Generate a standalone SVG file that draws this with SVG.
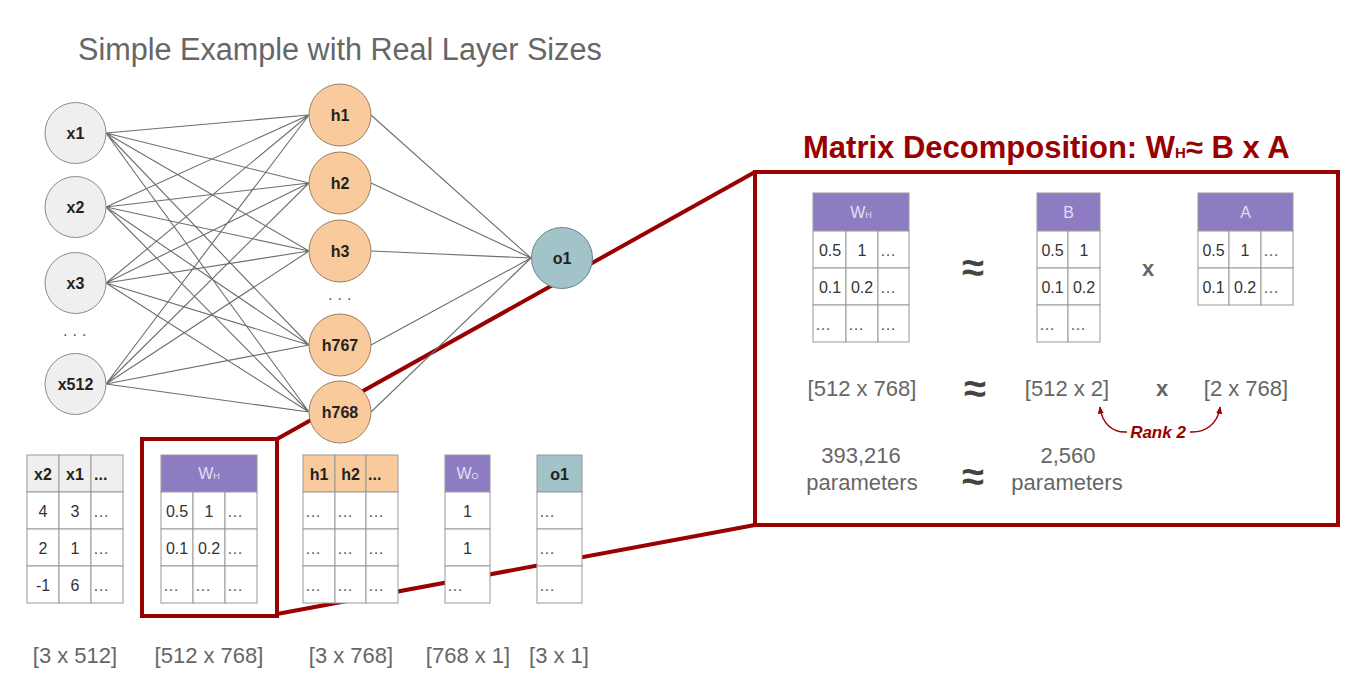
<svg xmlns="http://www.w3.org/2000/svg" width="1367" height="700" viewBox="0 0 1367 700">
<defs>
<marker id="ah" viewBox="0 0 10 10" refX="9" refY="5" markerWidth="5" markerHeight="5" orient="auto">
<path d="M0,1 L10,5 L0,9 z" fill="#990000"/>
</marker>
<style>
text{font-family:"Liberation Sans",Arial,sans-serif}
.title{font-size:30.6px;fill:#666}
.rtitle{font-size:31px;font-weight:bold;fill:#990000}
.edge{stroke:#6e6e6e;stroke-width:1.1;fill:none}
.zoom{stroke:#990000;stroke-width:4;fill:none}
.box{stroke:#990000;stroke-width:4;fill:#fff}
.nin{fill:#efefef;stroke:#8a8a8a;stroke-width:1}
.nh{fill:#f9cb9c;stroke:#9a7f62;stroke-width:1}
.no{fill:#a2c4c9;stroke:#66858a;stroke-width:1}
.nl{font-size:16px;font-weight:bold;fill:#222;text-anchor:middle}
.dots{font-size:16px;fill:#555;letter-spacing:5px}
.cell{fill:#fff;stroke:#999;stroke-width:1}
.hg{fill:#efefef;stroke:#999;stroke-width:1}
.hp{fill:#8e7cc3;stroke:#999;stroke-width:1}
.ho{fill:#f9cb9c;stroke:#999;stroke-width:1}
.ht{fill:#a2c4c9;stroke:#999;stroke-width:1}
.t{font-size:16px;fill:#333;text-anchor:middle}
.e{font-size:16px;fill:#555}
.hb{font-size:16px;font-weight:bold;fill:#222;text-anchor:middle}
.hbl{font-size:16px;font-weight:bold;fill:#222}
.hw{font-size:16px;fill:#e4def3;text-anchor:middle}
.lab{font-size:22px;fill:#666;text-anchor:middle}
.apx{font-size:40px;font-weight:bold;fill:#444;text-anchor:middle}
.mul{font-size:22px;font-weight:bold;fill:#666;text-anchor:middle}
.rank{font-size:17px;font-weight:bold;font-style:italic;fill:#990000;text-anchor:middle}
</style>
</defs>

<text class="title" x="78" y="60">Simple Example with Real Layer Sizes</text>

<g id="connectors">
<path class="zoom" d="M277,439 L755,172 M277,614 L755,525"/>
<path class="edge" d="M106,133 L309,115 M106,133 L309,183 M106,133 L309,251 M106,133 L309,345 M106,133 L309,412
M106,207 L309,115 M106,207 L309,183 M106,207 L309,251 M106,207 L309,345 M106,207 L309,412
M106,283 L309,115 M106,283 L309,183 M106,283 L309,251 M106,283 L309,345 M106,283 L309,412
M106,384 L309,115 M106,384 L309,183 M106,384 L309,251 M106,384 L309,345 M106,384 L309,412
M371,115 L531,258 M371,183 L531,258 M371,251 L531,258 M371,345 L531,258 M371,412 L531,258"/>
</g>

<g id="node-x1"><circle class="nin" cx="75.5" cy="133" r="30.5"/><text class="nl" x="75.5" y="139">x1</text></g>
<g id="node-x2"><circle class="nin" cx="75.5" cy="207" r="30.5"/><text class="nl" x="75.5" y="213">x2</text></g>
<g id="node-x3"><circle class="nin" cx="75.5" cy="283" r="30.5"/><text class="nl" x="75.5" y="289">x3</text></g>
<text class="dots" x="63" y="336">...</text>
<g id="node-x512"><circle class="nin" cx="75.5" cy="384" r="30.5"/><text class="nl" x="75.5" y="390">x512</text></g>

<g id="node-h1"><circle class="nh" cx="340" cy="115" r="31"/><text class="nl" x="340" y="121">h1</text></g>
<g id="node-h2"><circle class="nh" cx="340" cy="183" r="31"/><text class="nl" x="340" y="189">h2</text></g>
<g id="node-h3"><circle class="nh" cx="340" cy="251" r="31"/><text class="nl" x="340" y="257">h3</text></g>
<text class="dots" x="328" y="300">...</text>
<g id="node-h767"><circle class="nh" cx="340" cy="345" r="31"/><text class="nl" x="340" y="351">h767</text></g>
<g id="node-h768"><circle class="nh" cx="340" cy="412" r="31"/><text class="nl" x="340" y="418">h768</text></g>

<g id="node-o1"><circle class="no" cx="562" cy="258" r="30.5"/><text class="nl" x="562" y="264">o1</text></g>

<g id="mat-x">
<rect class="hg" x="27" y="455" width="32" height="37"/><rect class="hg" x="59" y="455" width="32" height="37"/><rect class="hg" x="91" y="455" width="32" height="37"/>
<rect class="cell" x="27" y="492" width="32" height="37"/><rect class="cell" x="59" y="492" width="32" height="37"/><rect class="cell" x="91" y="492" width="32" height="37"/>
<rect class="cell" x="27" y="529" width="32" height="37"/><rect class="cell" x="59" y="529" width="32" height="37"/><rect class="cell" x="91" y="529" width="32" height="37"/>
<rect class="cell" x="27" y="566" width="32" height="37"/><rect class="cell" x="59" y="566" width="32" height="37"/><rect class="cell" x="91" y="566" width="32" height="37"/>
<text class="hb" x="43" y="480">x2</text><text class="hb" x="75" y="480">x1</text><text class="hbl" x="94" y="480">...</text>
<text class="t" x="43" y="517">4</text><text class="t" x="75" y="517">3</text><text class="e" x="93" y="517">…</text>
<text class="t" x="43" y="554">2</text><text class="t" x="75" y="554">1</text><text class="e" x="93" y="554">…</text>
<text class="t" x="43" y="591">-1</text><text class="t" x="75" y="591">6</text><text class="e" x="93" y="591">…</text>
</g>

<g id="mat-wh">
<rect class="hp" x="161" y="455" width="96" height="37"/>
<rect class="cell" x="161" y="492" width="32" height="37"/><rect class="cell" x="193" y="492" width="32" height="37"/><rect class="cell" x="225" y="492" width="32" height="37"/>
<rect class="cell" x="161" y="529" width="32" height="37"/><rect class="cell" x="193" y="529" width="32" height="37"/><rect class="cell" x="225" y="529" width="32" height="37"/>
<rect class="cell" x="161" y="566" width="32" height="37"/><rect class="cell" x="193" y="566" width="32" height="37"/><rect class="cell" x="225" y="566" width="32" height="37"/>
<text class="hw" x="209" y="479">W<tspan font-size="9">H</tspan></text>
<text class="t" x="177" y="517">0.5</text><text class="t" x="209" y="517">1</text><text class="e" x="227" y="517">…</text>
<text class="t" x="177" y="554">0.1</text><text class="t" x="209" y="554">0.2</text><text class="e" x="227" y="554">…</text>
<text class="e" x="163" y="591">…</text><text class="e" x="195" y="591">…</text><text class="e" x="227" y="591">…</text>
</g>
<rect id="wh-highlight" class="zoom" x="142" y="439" width="135" height="177"/>

<g id="mat-h">
<rect class="ho" x="303" y="455" width="32" height="37"/><rect class="ho" x="335" y="455" width="31" height="37"/><rect class="ho" x="366" y="455" width="32" height="37"/>
<rect class="cell" x="303" y="492" width="32" height="37"/><rect class="cell" x="335" y="492" width="31" height="37"/><rect class="cell" x="366" y="492" width="32" height="37"/>
<rect class="cell" x="303" y="529" width="32" height="37"/><rect class="cell" x="335" y="529" width="31" height="37"/><rect class="cell" x="366" y="529" width="32" height="37"/>
<rect class="cell" x="303" y="566" width="32" height="37"/><rect class="cell" x="335" y="566" width="31" height="37"/><rect class="cell" x="366" y="566" width="32" height="37"/>
<text class="hb" x="319" y="480">h1</text><text class="hb" x="350.5" y="480">h2</text><text class="hbl" x="368" y="480">...</text>
<text class="e" x="305" y="517">…</text><text class="e" x="337" y="517">…</text><text class="e" x="368" y="517">…</text>
<text class="e" x="305" y="554">…</text><text class="e" x="337" y="554">…</text><text class="e" x="368" y="554">…</text>
<text class="e" x="305" y="591">…</text><text class="e" x="337" y="591">…</text><text class="e" x="368" y="591">…</text>
</g>

<g id="mat-wo">
<rect class="hp" x="445" y="455" width="45" height="37"/>
<rect class="cell" x="445" y="492" width="45" height="37"/><rect class="cell" x="445" y="529" width="45" height="37"/><rect class="cell" x="445" y="566" width="45" height="37"/>
<text class="hw" x="467.5" y="479">W<tspan font-size="9">O</tspan></text>
<text class="t" x="467.5" y="517">1</text><text class="t" x="467.5" y="554">1</text><text class="e" x="447" y="591">…</text>
</g>

<g id="mat-o1">
<rect class="ht" x="537" y="455" width="45" height="37"/>
<rect class="cell" x="537" y="492" width="45" height="37"/><rect class="cell" x="537" y="529" width="45" height="37"/><rect class="cell" x="537" y="566" width="45" height="37"/>
<text class="hb" x="559.5" y="480">o1</text>
<text class="e" x="539" y="517">…</text><text class="e" x="539" y="554">…</text><text class="e" x="539" y="591">…</text>
</g>

<g id="bottom-labels">
<text class="lab" x="75" y="663">[3 x 512]</text>
<text class="lab" x="209" y="663">[512 x 768]</text>
<text class="lab" x="351" y="663">[3 x 768]</text>
<text class="lab" x="468" y="663">[768 x 1]</text>
<text class="lab" x="559" y="663">[3 x 1]</text>
</g>

<text class="rtitle" x="803" y="158">Matrix Decomposition: W<tspan font-size="15">H</tspan>≈ B x A</text>
<g id="decomp-box">
<rect class="box" x="755" y="172" width="583" height="353"/>
</g>

<g id="mat-wh-big">
<rect class="hp" x="813" y="193" width="96" height="38"/>
<rect class="cell" x="813" y="231" width="33" height="37"/><rect class="cell" x="846" y="231" width="32" height="37"/><rect class="cell" x="878" y="231" width="31" height="37"/>
<rect class="cell" x="813" y="268" width="33" height="37"/><rect class="cell" x="846" y="268" width="32" height="37"/><rect class="cell" x="878" y="268" width="31" height="37"/>
<rect class="cell" x="813" y="305" width="33" height="37"/><rect class="cell" x="846" y="305" width="32" height="37"/><rect class="cell" x="878" y="305" width="31" height="37"/>
<text class="hw" x="861" y="218">W<tspan font-size="9">H</tspan></text>
<text class="t" x="830" y="256">0.5</text><text class="t" x="862" y="256">1</text><text class="e" x="880" y="256">…</text>
<text class="t" x="830" y="293">0.1</text><text class="t" x="862" y="293">0.2</text><text class="e" x="880" y="293">…</text>
<text class="e" x="815" y="330">…</text><text class="e" x="848" y="330">…</text><text class="e" x="880" y="330">…</text>
</g>

<g id="mat-b">
<rect class="hp" x="1037" y="193" width="63" height="38"/>
<rect class="cell" x="1037" y="231" width="31" height="37"/><rect class="cell" x="1068" y="231" width="32" height="37"/>
<rect class="cell" x="1037" y="268" width="31" height="37"/><rect class="cell" x="1068" y="268" width="32" height="37"/>
<rect class="cell" x="1037" y="305" width="31" height="37"/><rect class="cell" x="1068" y="305" width="32" height="37"/>
<text class="hw" x="1068.5" y="218">B</text>
<text class="t" x="1052.5" y="256">0.5</text><text class="t" x="1084" y="256">1</text>
<text class="t" x="1052.5" y="293">0.1</text><text class="t" x="1084" y="293">0.2</text>
<text class="e" x="1039" y="330">…</text><text class="e" x="1070" y="330">…</text>
</g>

<g id="mat-a">
<rect class="hp" x="1198" y="193" width="95" height="38"/>
<rect class="cell" x="1198" y="231" width="31" height="37"/><rect class="cell" x="1229" y="231" width="32" height="37"/><rect class="cell" x="1261" y="231" width="32" height="37"/>
<rect class="cell" x="1198" y="268" width="31" height="37"/><rect class="cell" x="1229" y="268" width="32" height="37"/><rect class="cell" x="1261" y="268" width="32" height="37"/>
<text class="hw" x="1245.5" y="218">A</text>
<text class="t" x="1213.5" y="256">0.5</text><text class="t" x="1245" y="256">1</text><text class="e" x="1263" y="256">…</text>
<text class="t" x="1213.5" y="293">0.1</text><text class="t" x="1245" y="293">0.2</text><text class="e" x="1263" y="293">…</text>
</g>

<g id="decomp-text">
<text class="apx" x="973" y="281">≈</text>
<text class="mul" x="1148" y="276">x</text>
<text class="lab" x="862" y="396">[512 x 768]</text>
<text class="apx" x="975" y="402">≈</text>
<text class="lab" x="1067" y="396">[512 x 2]</text>
<text class="mul" x="1162" y="396">x</text>
<text class="lab" x="1246" y="396">[2 x 768]</text>
<text class="rank" x="1158" y="438">Rank 2</text>
<path d="M1127,432 C1113,433 1102,424 1100,407" stroke="#990000" stroke-width="1.5" fill="none" marker-end="url(#ah)"/>
<path d="M1190,432 C1205,433 1218,424 1220,407" stroke="#990000" stroke-width="1.5" fill="none" marker-end="url(#ah)"/>
<text class="lab" x="861" y="463">393,216</text>
<text class="lab" x="862" y="490">parameters</text>
<text class="apx" x="973" y="490">≈</text>
<text class="lab" x="1068" y="463">2,560</text>
<text class="lab" x="1067" y="490">parameters</text>
</g>
</svg>
